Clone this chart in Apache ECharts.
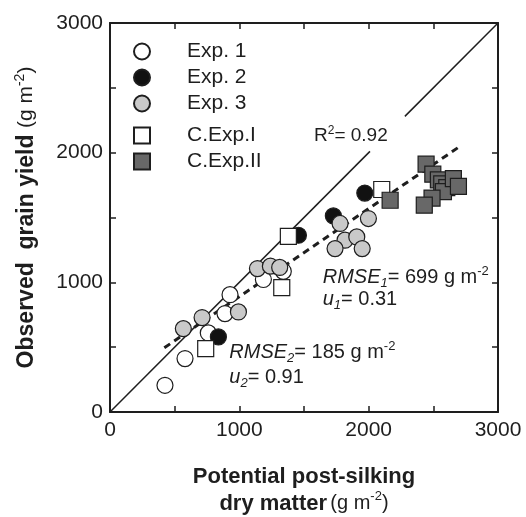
<!DOCTYPE html>
<html>
<head>
<meta charset="utf-8">
<script src="https://cdn.jsdelivr.net/npm/echarts@6/dist/echarts.min.js"></script>
<style>
  html, body { margin: 0; padding: 0; background: #fff; }
  #chart { width: 526px; height: 517px; }
</style>
</head>
<body>
<div id="chart"></div>
<script>
  // values, [potential post-silking DM, observed grain yield] in g m-2
  const exp1 = [[425, 206], [580, 412], [760, 610], [889, 759], [928, 905], [1186, 1022], [1340, 1085]];
  const exp2 = [[838, 579], [1457, 1363], [1727, 1512], [1970, 1688]];
  const exp3 = [[567, 643], [712, 728], [993, 772], [1140, 1106], [1240, 1125], [1312, 1115],
                [1779, 1454], [1998, 1492], [1817, 1325], [1908, 1350], [1740, 1260], [1950, 1260]];
  const cExpI = [[740, 489], [1328, 959], [1379, 1355], [2101, 1716]];
  const cExpII = [[2166, 1633], [2444, 1911], [2496, 1834], [2539, 1790], [2565, 1760], [2604, 1730],
                  [2578, 1700], [2655, 1800], [2694, 1740], [2490, 1650], [2430, 1595]];
  // 1:1 line (broken where the R2 label sits) and the fitted dashed line
  const oneToOneLow = [[0, 0], [2010, 2010]];
  const oneToOneHigh = [[2280, 2280], [3000, 3000]];
  const fitLine = [[420, 495], [2700, 2045]];
  const axisMin = 0, axisMax = 3000, tickStep = 500, labelStep = 1000;

  const FONT = '"Liberation Sans", Arial, sans-serif';
  const INK = '#1e1e1e';
  const chart = echarts.init(document.getElementById('chart'));

  // measure text so the sub/superscript pieces can be laid out side by side
  const ctx = document.createElement('canvas').getContext('2d');
  function textWidth(t, size, italic) {
    ctx.font = (italic ? 'italic ' : '') + size + 'px ' + FONT;
    return ctx.measureText(t).width;
  }
  function textLine(x, base, parts) {
    const out = [];
    let cx = x;
    parts.forEach(p => {
      const size = p.size || 20;
      out.push({
        type: 'text', x: cx, y: base - 0.31 * size + (p.dy || 0), z: 100,
        style: {
          text: p.t, fill: INK, fontFamily: FONT, fontSize: size,
          fontStyle: p.italic ? 'italic' : 'normal', verticalAlign: 'middle', align: 'left'
        }
      });
      cx += textWidth(p.t, size, p.italic);
    });
    return out;
  }
  const sub = (t) => ({ t: t, size: 13, italic: true, dy: 4 });
  const sup = (t) => ({ t: t, size: 13, dy: -8 });

  const notes = [].concat(
    textLine(314, 141.7, [{ t: 'R', size: 19 }, { t: '2', size: 12, dy: -7 }, { t: '= 0.92', size: 19 }]),
    textLine(322.7, 283.3, [{ t: 'RMSE', italic: true }, sub('1'), { t: '= 699 g m' }, sup('-2')]),
    textLine(322.7, 305.5, [{ t: 'u', italic: true }, sub('1'), { t: '= 0.31' }]),
    textLine(229.3, 358.3, [{ t: 'RMSE', italic: true }, sub('2'), { t: '= 185 g m' }, sup('-2')]),
    textLine(229.3, 383.3, [{ t: 'u', italic: true }, sub('2'), { t: '= 0.91' }])
  );

  const tickLabel = v => (v % labelStep === 0 ? String(v) : '');
  const axisBase = {
    type: 'value', min: axisMin, max: axisMax, interval: tickStep,
    splitLine: { show: false },
    axisLine: { show: true, onZero: false, lineStyle: { color: INK, width: 2 } },
    axisTick: { show: true, inside: true, length: 6, lineStyle: { color: INK, width: 1.5 } }
  };
  const nameRich = {
    b: { fontFamily: FONT, fontWeight: 'bold', fontSize: 22, color: INK, lineHeight: 27 },
    n: { fontFamily: FONT, fontSize: 20, color: INK, lineHeight: 27 },
    s: { fontFamily: FONT, fontSize: 13, color: INK, verticalAlign: 'top', lineHeight: 27 }
  };
  const yNameRich = {
    b: { fontFamily: FONT, fontWeight: 'bold', fontSize: 23, color: INK, lineHeight: 27 },
    n: { fontFamily: FONT, fontSize: 21, color: INK, lineHeight: 27 },
    s: { fontFamily: FONT, fontSize: 14, color: INK, verticalAlign: 'top', lineHeight: 27 }
  };

  const legendBase = {
    orient: 'vertical', left: 128, itemWidth: 16, itemHeight: 16, itemGap: 5,
    selectedMode: false, formatter: '{sp|}{t|{name}}',
    textStyle: {
      rich: {
        sp: { width: 32 },
        t: { fontFamily: FONT, fontSize: 21, color: INK, lineHeight: 21 }
      }
    }
  };

  const dot = (name, data, symbol, fill) => ({
    name: name, type: 'scatter', data: data, symbol: symbol, symbolSize: 16,
    itemStyle: { color: fill, borderColor: INK, borderWidth: 1.2, opacity: 1 },
    emphasis: { disabled: true }, z: 5
  });

  const option = {
    animation: false,
    backgroundColor: '#fff',
    grid: { left: 110, right: 28, top: 23, bottom: 105, containLabel: false, outerBoundsMode: 'none' },
    xAxis: [
      Object.assign({}, axisBase, {
        position: 'bottom',
        axisLabel: { formatter: tickLabel, margin: 8, fontFamily: FONT, fontSize: 21, color: INK },
        name: '{b|Potential post-silking}\n{b|dry matter} {n|(g m}{s|-2}{n|)}',
        nameLocation: 'middle', nameGap: 51,
        nameTextStyle: { align: 'center', rich: nameRich }
      }),
      Object.assign({}, axisBase, { position: 'top', axisLabel: { show: false } })
    ],
    yAxis: [
      Object.assign({}, axisBase, {
        position: 'left',
        axisLabel: { formatter: tickLabel, margin: 7, fontFamily: FONT, fontSize: 21, color: INK },
        name: '{b|Observed  grain yield }{n|(g m}{s|-2}{n|)}',
        nameLocation: 'middle', nameGap: 70, nameRotate: 90,
        nameTextStyle: { rich: yNameRich }
      }),
      Object.assign({}, axisBase, { position: 'right', axisLabel: { show: false } })
    ],
    legend: [
      Object.assign({}, legendBase, { top: 36, data: ['Exp. 1', 'Exp. 2', 'Exp. 3'] }),
      Object.assign({}, legendBase, { top: 120, data: ['C.Exp.I', 'C.Exp.II'] })
    ],
    series: [
      { type: 'line', data: oneToOneLow, showSymbol: false, silent: true, z: 2,
        lineStyle: { color: INK, width: 1.5 } },
      { type: 'line', data: oneToOneHigh, showSymbol: false, silent: true, z: 2,
        lineStyle: { color: INK, width: 1.5 } },
      { type: 'line', data: fitLine, showSymbol: false, silent: true, z: 3,
        lineStyle: { color: INK, width: 3, type: [7, 5] } },
      dot('Exp. 1', exp1, 'circle', '#ffffff'),
      dot('Exp. 2', exp2, 'circle', '#111111'),
      dot('Exp. 3', exp3, 'circle', '#c9c9c9'),
      dot('C.Exp.I', cExpI, 'rect', '#ffffff'),
      dot('C.Exp.II', cExpII, 'rect', '#686868')
    ],
    graphic: { elements: notes }
  };

  chart.setOption(option);
</script>
</body>
</html>
